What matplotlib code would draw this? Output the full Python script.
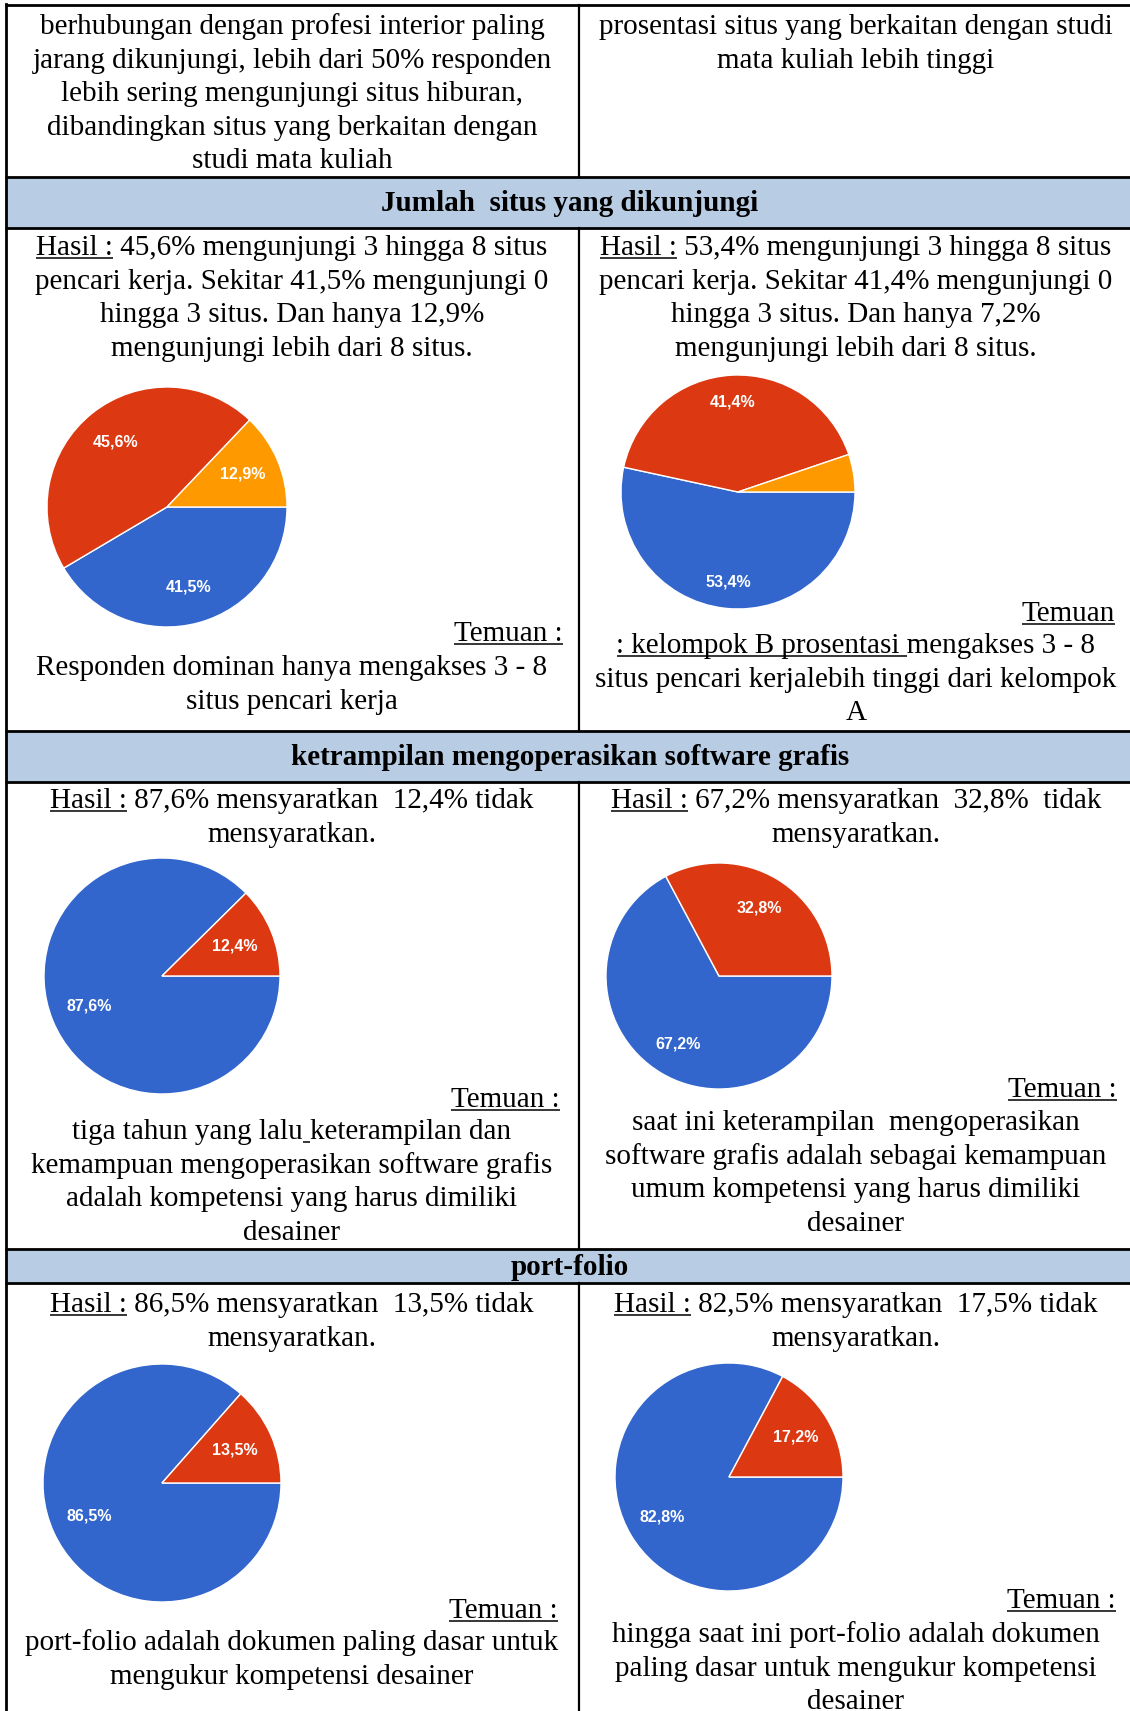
import matplotlib
matplotlib.use('Agg')
import matplotlib.pyplot as plt

# pie data (percent), order: blue, red, orange
jumlah_a = [41.5, 45.6, 12.9]
jumlah_b = [53.4, 41.4, 5.2]
software_a = [87.6, 12.4]
software_b = [67.2, 32.8]
portfolio_a = [86.5, 13.5]
portfolio_b = [82.8, 17.2]
pie_colors = ['#3366cc', '#dc3912', '#ff9900']

headers = ['Jumlah  situs yang dikunjungi',
           'ketrampilan mengoperasikan software grafis',
           'port-folio']

top_left = ['berhubungan dengan profesi interior paling',
            'jarang dikunjungi, lebih dari 50% responden',
            'lebih sering mengunjungi situs hiburan,',
            'dibandingkan situs yang berkaitan dengan',
            'studi mata kuliah']
top_right = ['prosentasi situs yang berkaitan dengan studi',
             'mata kuliah lebih tinggi']

jumlah_a_hasil = ['Hasil : 45,6% mengunjungi 3 hingga 8 situs',
                  'pencari kerja. Sekitar 41,5% mengunjungi 0',
                  'hingga 3 situs. Dan hanya 12,9%',
                  'mengunjungi lebih dari 8 situs.']
jumlah_b_hasil = ['Hasil : 53,4% mengunjungi 3 hingga 8 situs',
                  'pencari kerja. Sekitar 41,4% mengunjungi 0',
                  'hingga 3 situs. Dan hanya 7,2%',
                  'mengunjungi lebih dari 8 situs.']
jumlah_a_temuan = ['Responden dominan hanya mengakses 3 - 8',
                   'situs pencari kerja']
jumlah_b_temuan = [': kelompok B prosentasi mengakses 3 - 8',
                   'situs pencari kerjalebih tinggi dari kelompok',
                   'A']

software_a_hasil = ['Hasil : 87,6% mensyaratkan  12,4% tidak', 'mensyaratkan.']
software_b_hasil = ['Hasil : 67,2% mensyaratkan  32,8%  tidak', 'mensyaratkan.']
software_a_temuan = ['tiga tahun yang lalu keterampilan dan',
                     'kemampuan mengoperasikan software grafis',
                     'adalah kompetensi yang harus dimiliki',
                     'desainer']
software_b_temuan = ['saat ini keterampilan  mengoperasikan',
                     'software grafis adalah sebagai kemampuan',
                     'umum kompetensi yang harus dimiliki',
                     'desainer']

portfolio_a_hasil = ['Hasil : 86,5% mensyaratkan  13,5% tidak', 'mensyaratkan.']
portfolio_b_hasil = ['Hasil : 82,5% mensyaratkan  17,5% tidak', 'mensyaratkan.']
portfolio_a_temuan = ['port-folio adalah dokumen paling dasar untuk',
                      'mengukur kompetensi desainer']
portfolio_b_temuan = ['hingga saat ini port-folio adalah dokumen',
                      'paling dasar untuk mengukur kompetensi',
                      'desainer']

W, H = 1130, 1711
SERIF = 'Liberation Serif'
FS = 21
STEP = 33.6

fig = plt.figure(figsize=(W / 100, H / 100), dpi=100)
ax = fig.add_axes([0, 0, 1, 1])
ax.set_xlim(0, W)
ax.set_ylim(H, 0)
ax.axis('off')
renderer = fig.canvas.get_renderer()


def text_width(s, weight='normal'):
    t = ax.text(0, 0, s + '|', fontsize=FS, family=SERIF, weight=weight)
    w = t.get_window_extent(renderer).width
    t.remove()
    t = ax.text(0, 0, '|', fontsize=FS, family=SERIF, weight=weight)
    w -= t.get_window_extent(renderer).width
    t.remove()
    return w


def write(x, y, s, align='center', ul=None, weight='normal'):
    w = text_width(s, weight)
    if align == 'center':
        x0 = x - w / 2
    elif align == 'right':
        x0 = x - w
    else:
        x0 = x
    ax.text(x0, y, s, ha='left', va='baseline', fontsize=FS, family=SERIF,
            weight=weight, color='black')
    if ul:
        for i, j in ul:
            u0 = x0 + text_width(s[:i])
            u1 = x0 + text_width(s[:j])
            ax.plot([u0, u1], [y + 3, y + 3], color='black', lw=1.1,
                    solid_capstyle='butt')


def write_block(x, y, lines, ul_first=None):
    for k, s in enumerate(lines):
        ul = ul_first if k == 0 else None
        write(x, y + k * STEP, s, ul=ul)


def fmt(p):
    if p < 10:
        return ''
    return ('%.1f%%' % p).replace('.', ',')


def pie(cx, cy, r, values, pctd):
    pax = fig.add_axes([(cx - r) / W, 1 - (cy + r) / H, 2 * r / W, 2 * r / H])
    pax.pie(values, colors=pie_colors[:len(values)], startangle=0,
            counterclock=False, autopct=fmt, pctdistance=pctd,
            wedgeprops=dict(edgecolor='white', linewidth=1),
            textprops=dict(color='white', fontsize=11.5, weight='bold',
                           family='Liberation Sans'))
    pax.set_xlim(-1, 1)
    pax.set_ylim(-1, 1)
    pax.axis('off')


# table grid
LEFT, MID = 5.5, 579
header_rows = [(177, 228), (731, 782), (1249, 1283)]
for (y0, y1), name in zip(header_rows, headers):
    ax.fill_between([LEFT, W], y0, y1, color='#b8cce4', lw=0)
    write(570, (y0 + y1) / 2 + 8 if name != 'port-folio' else 1275, name,
          weight='bold')

for y in [5, 177, 228, 731, 782, 1249, 1283]:
    ax.plot([LEFT - 1, W], [y, y], color='black', lw=2, solid_capstyle='butt')
ax.plot([LEFT, LEFT], [4, H], color='black', lw=2)
for y0, y1 in [(5, 177), (228, 731), (782, 1249), (1283, H)]:
    ax.plot([MID, MID], [y0, y1], color='black', lw=1.6)

XL, XR = 292, 856
HASIL = [(0, 7)]

# top row
write_block(XL, 34, top_left)
write_block(XR, 34, top_right)

# jumlah situs
write_block(XL, 255, jumlah_a_hasil, HASIL)
write_block(XR, 255, jumlah_b_hasil, HASIL)
write(563, 641, 'Temuan :', align='right', ul=[(0, 8)])
write_block(XL, 675, jumlah_a_temuan)
write(1115, 621, 'Temuan', align='right', ul=[(0, 6)])
write(XR, 653, jumlah_b_temuan[0], ul=[(0, 24)])
write_block(XR, 653 + STEP, jumlah_b_temuan[1:])
pie(167, 507, 120, jumlah_a, 0.69)
pie(738, 492, 117, jumlah_b, 0.77)

# software grafis
write_block(XL, 808, software_a_hasil, HASIL)
write_block(XR, 808, software_b_hasil, HASIL)
write(560, 1107, 'Temuan :', align='right', ul=[(0, 8)])
write(XL, 1139, software_a_temuan[0], ul=[(20, 21)])
write_block(XL, 1139 + STEP, software_a_temuan[1:])
write(1117, 1097, 'Temuan :', align='right', ul=[(0, 8)])
write_block(XR, 1130, software_b_temuan)
pie(162, 976, 118, software_a, 0.67)
pie(719, 976, 113, software_b, 0.70)

# port-folio
write_block(XL, 1312, portfolio_a_hasil, HASIL)
write_block(XR, 1312, portfolio_b_hasil, HASIL)
write(558, 1618, 'Temuan :', align='right', ul=[(0, 8)])
write_block(XL, 1650, portfolio_a_temuan)
write(1116, 1608, 'Temuan :', align='right', ul=[(0, 8)])
write_block(XR, 1642, portfolio_b_temuan)
pie(162, 1483, 119, portfolio_a, 0.67)
pie(729, 1477, 114, portfolio_b, 0.68)

fig.savefig('out.png', dpi=100)
